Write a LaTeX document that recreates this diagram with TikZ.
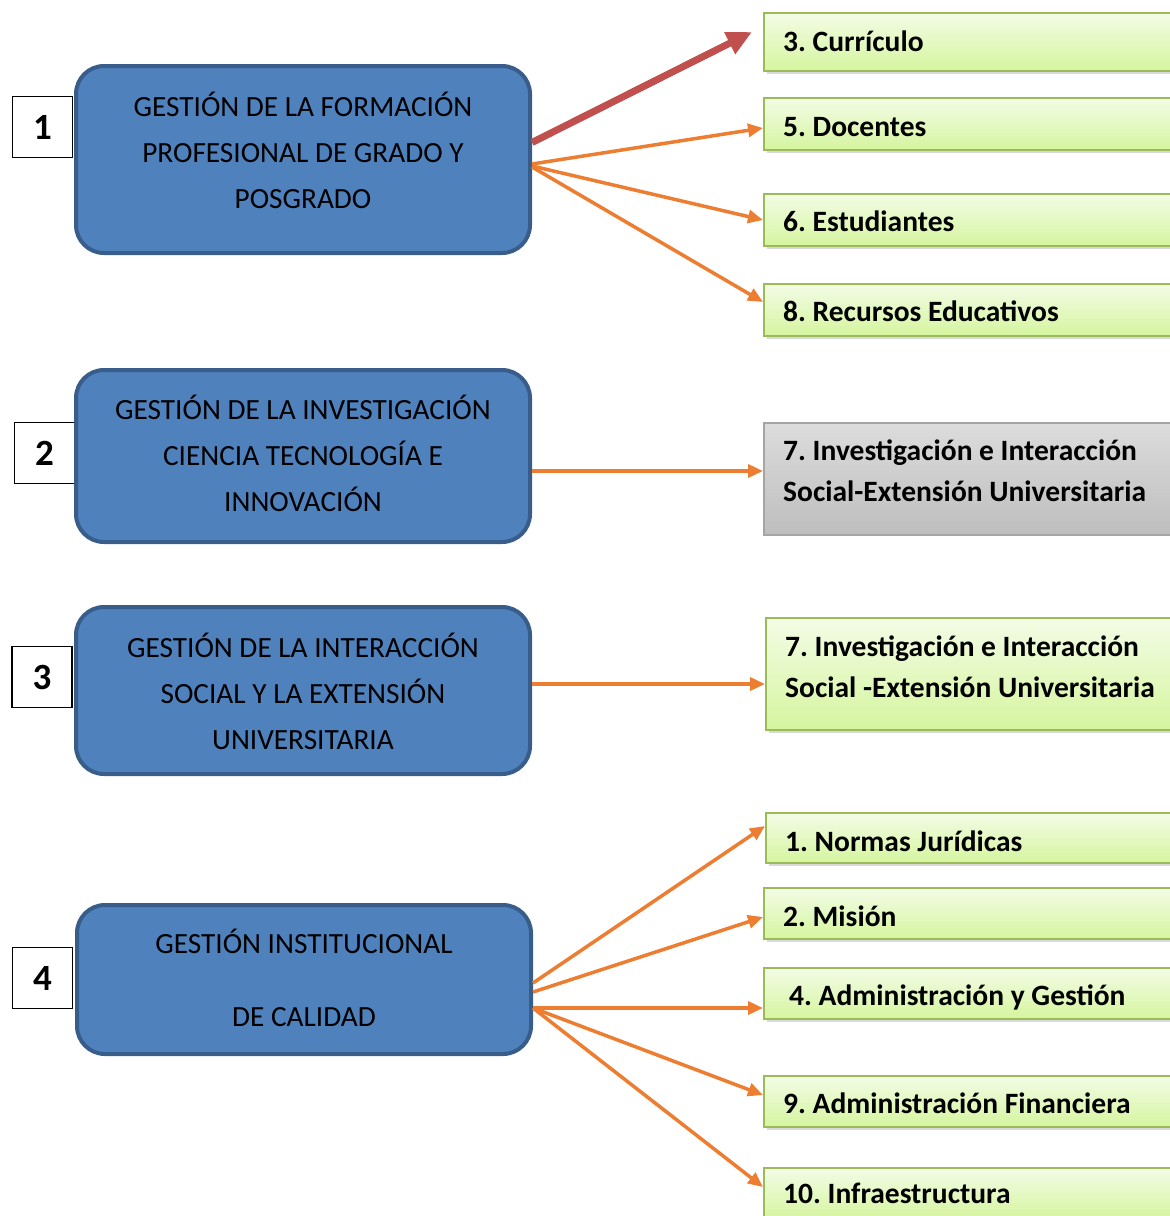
\documentclass[tikz,border=0pt]{standalone}
\usepackage{fontspec}
\setmainfont{Carlito}
\usetikzlibrary{arrows.meta,shadows}
\definecolor{bluefill}{HTML}{4F81BD}
\definecolor{blueline}{HTML}{385D8A}
\definecolor{greenline}{HTML}{9BBB59}
\definecolor{greentop}{HTML}{F3FCE6}
\definecolor{greenbot}{HTML}{D5F59E}
\definecolor{graytop}{HTML}{DCDCDC}
\definecolor{graybot}{HTML}{BEBEBE}
\definecolor{grayline}{HTML}{A5A5A5}
\definecolor{orangeline}{HTML}{ED7D31}
\definecolor{redline}{HTML}{C0504D}
\frenchspacing
\begin{document}
\begin{tikzpicture}[x=1pt,y=-1pt,
  numbox/.style={draw=black, line width=1.3pt, fill=white, minimum width=60pt,
    minimum height=61pt, inner sep=0pt, font=\fontsize{37}{37}\selectfont\bfseries},
  bluebox/.style={draw=blueline, line width=4pt, fill=bluefill, rounded corners=28pt,
    minimum width=454pt, inner sep=0pt},
  bluetext/.style={align=center, font=\fontsize{29.3}{46}\selectfont, inner sep=0pt, anchor=base},
  greenbox/.style={draw=greenline, line width=2pt, top color=greentop, bottom color=greenbot,
    minimum width=440pt, inner sep=0pt, anchor=west,
    drop shadow={shadow xshift=3pt, shadow yshift=-3pt, opacity=0.3}},
  graybox/.style={draw=grayline, line width=1.5pt, top color=graytop, bottom color=graybot,
    minimum width=440pt, inner sep=0pt, anchor=west},
  itemtext/.style={align=left, font=\fontsize{29.5}{41}\selectfont\bfseries, inner sep=0pt, anchor=base west},
  oarrow/.style={draw=orangeline, line width=3.5pt, -{Triangle[length=15pt,width=13pt]}},
  rarrow/.style={draw=redline, line width=7pt, -{Triangle[length=25pt,width=23pt]}}
]
\useasboundingbox (0,0) rectangle (1170,1216);
\clip (0,0) rectangle (1170,1216);

% number boxes
\node[numbox] (n1) at (42.5,127) {1};
\node[numbox] (n2) at (44.5,453) {2};
\node[numbox] (n3) at (42,677) {3};
\node[numbox] (n4) at (42.5,978) {4};

% blue boxes
\node[bluebox, minimum height=187pt] (b1) at (303,159.5) {};
\node[bluebox, minimum height=172pt] (b2) at (303,456) {};
\node[bluebox, minimum height=167pt] (b3) at (303,690.5) {};
\node[bluebox, minimum height=149pt] (b4) at (304,979.5) {};

\node[bluetext] (t1) at (303,208) {GESTIÓN DE LA FORMACIÓN\\PROFESIONAL DE GRADO Y\\POSGRADO};
\node[bluetext] (t2) at (303,511) {GESTIÓN DE LA INVESTIGACIÓN\\CIENCIA TECNOLOGÍA E\\INNOVACIÓN};
\node[bluetext] (t3) at (303,749) {GESTIÓN DE LA INTERACCIÓN\\SOCIAL Y LA EXTENSIÓN\\UNIVERSITARIA};
\node[bluetext] (t4) at (304,1026) {GESTIÓN INSTITUCIONAL\\[27pt]DE CALIDAD};

% right-hand boxes
\node[greenbox, minimum height=58pt] (g3) at (763,42) {};
\node[greenbox, minimum height=52pt] (g5) at (763,124) {};
\node[greenbox, minimum height=52pt] (g6) at (763,220) {};
\node[greenbox, minimum height=52pt] (g8) at (763,310) {};
\node[graybox, minimum height=112pt] (g7a) at (763,479) {};
\node[greenbox, minimum height=112pt] (g7b) at (765,674) {};
\node[greenbox, minimum height=50pt] (g1) at (765,838) {};
\node[greenbox, minimum height=51pt] (g2) at (763,913.5) {};
\node[greenbox, minimum height=51pt] (g4) at (763,993.5) {};
\node[greenbox, minimum height=51pt] (g9) at (763,1101.5) {};
\node[greenbox, minimum height=52pt] (g10) at (763,1194) {};

\node[itemtext] (l3) at (783,51) {3. Currículo};
\node[itemtext] (l5) at (783,136) {5. Docentes};
\node[itemtext] (l6) at (783,231) {6. Estudiantes};
\node[itemtext] (l8) at (783,321) {8. Recursos Educativos};
\node[itemtext] (l7a) at (783,501) {7. Investigación e Interacción\\Social-Extensión Universitaria};
\node[itemtext] (l7b) at (785,697) {7. Investigación e Interacción\\Social -Extensión Universitaria};
\node[itemtext] (l1) at (785,851) {1. Normas Jurídicas};
\node[itemtext] (l2) at (783,926) {2. Misión};
\node[itemtext] (l4) at (789,1005) {4. Administración y Gestión};
\node[itemtext] (l9) at (783,1113) {9. Administración Financiera};
\node[itemtext] (l10) at (783,1203) {10. Infraestructura};

% connectors
\draw[rarrow] ([yshift=17pt]b1.east) -- ([xshift=-11pt,yshift=10pt]g3.west);
\draw[oarrow] ([yshift=-4.5pt]b1.east) -- ([yshift=-4pt]g5.west);
\draw[oarrow] ([yshift=-6.5pt]b1.east) -- (g6.west);
\draw[oarrow] ([yshift=-7.5pt]b1.east) -- ([yshift=8pt]g8.west);
\draw[oarrow] ([yshift=-15pt]b2.east) -- ([yshift=8pt]g7a.west);
\draw[oarrow] ([yshift=6.5pt]b3.east) -- ([yshift=-10pt]g7b.west);
\draw[oarrow] ([yshift=-3.5pt]b4.east) -- ([yshift=12pt]g1.west);
\draw[oarrow] ([yshift=-12.5pt]b4.east) -- ([yshift=-3.5pt]g2.west);
\draw[oarrow] ([yshift=-28.5pt]b4.east) -- ([yshift=-14.5pt]g4.west);
\draw[oarrow] ([yshift=-28.5pt]b4.east) -- ([yshift=6.5pt]g9.west);
\draw[oarrow] ([yshift=-28.5pt]b4.east) -- ([yshift=7pt]g10.west);
\end{tikzpicture}
\end{document}
